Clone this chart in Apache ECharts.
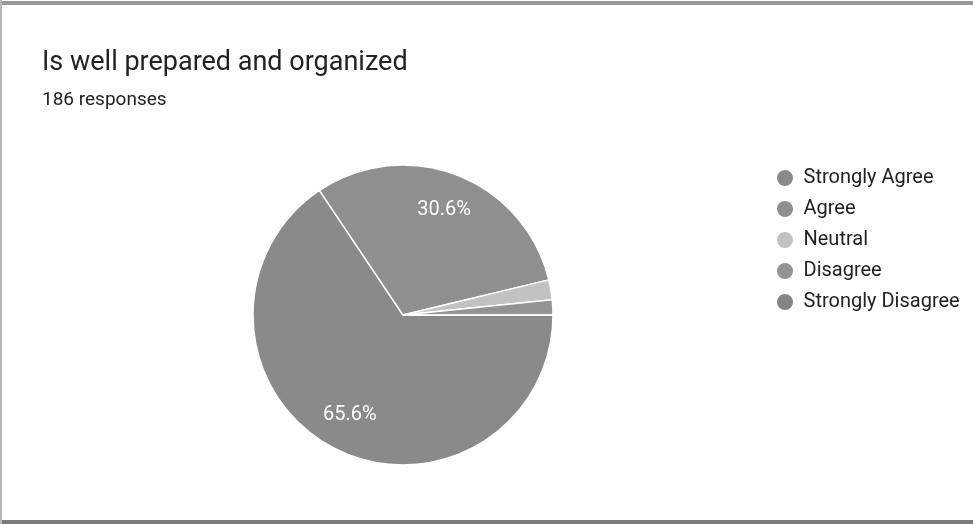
<!DOCTYPE html>
<html><head><meta charset="utf-8">
<script src="https://cdn.jsdelivr.net/npm/echarts@6/dist/echarts.min.js"></script>
<style>html,body{margin:0;padding:0;background:#fff}#c{width:973px;height:524px}</style>
</head><body><div id="c"></div>
<script>
const categories = ['Strongly Agree', 'Agree', 'Neutral', 'Disagree', 'Strongly Disagree'];
const counts = [122, 57, 4, 3, 0];
const colors = ['#8a8a8a', '#8f8f8f', '#c2c2c2', '#939393', '#858585'];
const titleText = 'Is well prepared and organized';
const subtitleText = '186 responses';

const data = categories.map((n, i) => ({ name: n, value: counts[i], itemStyle: { color: colors[i] } }));
const chart = echarts.init(document.getElementById('c'));
chart.setOption({
  backgroundColor: '#fff',
  animation: false,
  title: {
    text: titleText, subtext: subtitleText, left: 37, top: 45, itemGap: 14,
    textStyle: { fontFamily: 'Roboto', fontSize: 27, fontWeight: 'normal', color: '#222' },
    subtextStyle: { fontFamily: 'Roboto', fontSize: 19, color: '#222' }
  },
  legend: {
    orient: 'vertical', left: 770, top: 163, itemGap: 11, icon: 'circle', itemWidth: 27, itemHeight: 18,
    textStyle: { fontFamily: 'Roboto', fontSize: 20, lineHeight: 20, color: '#222' }, selectedMode: false,
    data: categories
  },
  graphic: [
    { type: 'rect', shape: { x: 0, y: 1, width: 973, height: 4 }, style: { fill: '#999' } },
    { type: 'rect', shape: { x: 0, y: 520, width: 973, height: 4 }, style: { fill: '#7a7a7a' } },
    { type: 'rect', shape: { x: 0, y: 0, width: 2, height: 524 }, style: { fill: '#b8b8b8' } }
  ],
  series: [{
    type: 'pie', center: [403, 315], radius: 150, startAngle: 0, clockwise: true,
    label: { show: false }, labelLine: { show: false }, emphasis: { disabled: true },
    itemStyle: { borderColor: '#fff', borderWidth: 1.5 },
    data: data
  }, {
    type: 'pie', center: [403, 315], radius: [70, 150], startAngle: 0, clockwise: true, silent: true,
    itemStyle: { color: 'rgba(0,0,0,0)' }, labelLine: { show: false }, emphasis: { disabled: true },
    label: {
      show: true, position: 'inside', color: '#fff', fontFamily: 'Roboto', fontSize: 20,
      formatter: p => p.percent >= 5 ? p.percent.toFixed(1) + '%' : ''
    },
    data: categories.map((n, i) => ({ name: n, value: counts[i] }))
  }]
});
</script></body></html>
